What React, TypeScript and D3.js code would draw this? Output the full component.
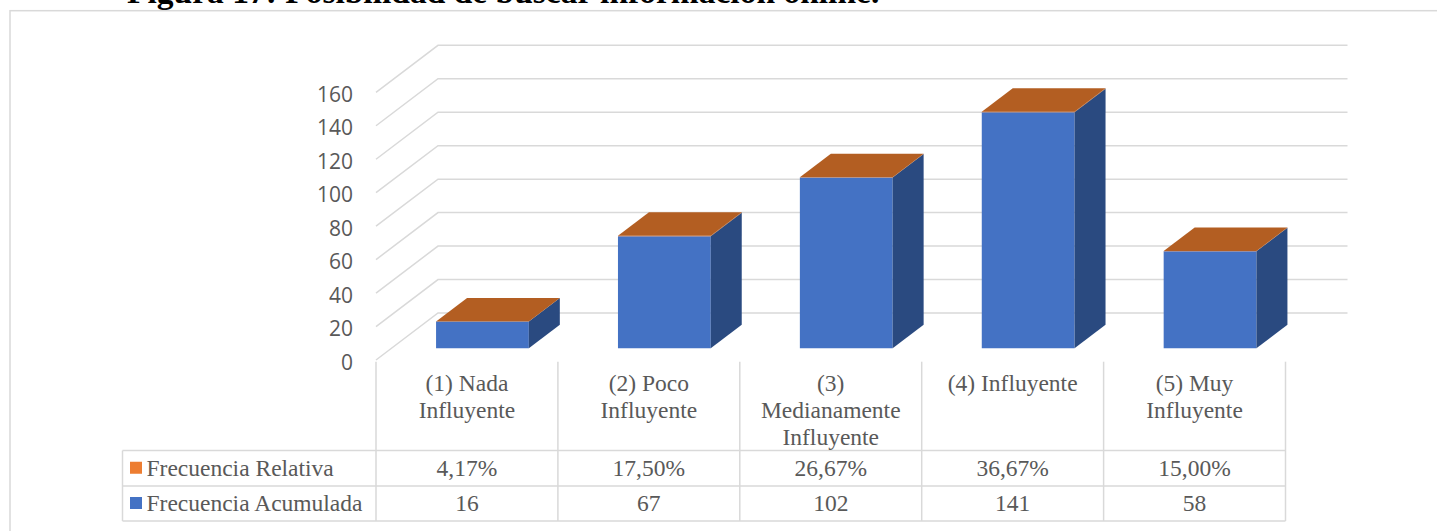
import React from "react";
import * as d3 from "d3";

// Series and labels
const categories = [
  "(1) Nada Influyente",
  "(2) Poco Influyente",
  "(3) Medianamente Influyente",
  "(4) Influyente",
  "(5) Muy Influyente",
];
const categoryLines = [
  ["(1) Nada", "Influyente"],
  ["(2) Poco", "Influyente"],
  ["(3)", "Medianamente", "Influyente"],
  ["(4) Influyente"],
  ["(5) Muy", "Influyente"],
];
const frecuenciaRelativa = [0.0417, 0.175, 0.2667, 0.3667, 0.15];
const frecuenciaAcumulada = [16, 67, 102, 141, 58];
const yTicks = [0, 20, 40, 60, 80, 100, 120, 140, 160];
const seriesNames = ["Frecuencia Relativa", "Frecuencia Acumulada"];
const seriesColors = ["#ED7D31", "#4472C4"];

const W = 1437;
const H = 531;

// Plot frame (front plane) and the depth vector of the 3D box
const X0 = 376;
const X1 = 1285.5;
const DX = 62;
const DY = -47;
const BAR_Z0 = 0.25;
const BAR_Z1 = 0.75;
const BAR_RATIO = 0.51;

const GRID = "#D9D9D9";
const TEXT = "#595959";
const SERIF = "'Liberation Serif', 'Times New Roman', serif";

const x = d3.scaleBand<string>().domain(categories).range([X0, X1]);
const y = d3.scaleLinear().domain([0, 160]).range([360, 92.3]);

// project a point (screen x on front plane, value, depth 0..1)
const P = (px: number, v: number, z: number): [number, number] => [px + DX * z, y(v) + DY * z];

const poly = (pts: [number, number][]) => d3.line()(pts.concat([pts[0]])) as string;

const fmtPct = (v: number) => d3.format(".2%")(v).replace(".", ",");

function Box({ x0, x1, v0, v1, front, side, top }: any) {
  const a = P(x0, v0, BAR_Z0);
  const b = P(x1, v0, BAR_Z0);
  const c = P(x1, v1, BAR_Z0);
  const d = P(x0, v1, BAR_Z0);
  const b2 = P(x1, v0, BAR_Z1);
  const c2 = P(x1, v1, BAR_Z1);
  const d2 = P(x0, v1, BAR_Z1);
  return (
    <g>
      <path d={poly([a, b, c, d])} fill={front} />
      <path d={poly([b, b2, c2, c])} fill={side} />
      {top && <path d={poly([d, c, c2, d2])} fill={top} />}
    </g>
  );
}

export default function App() {
  const bw = x.bandwidth();
  const barW = bw * BAR_RATIO;
  const tableTop = 450.5;
  const rowMid = 486;
  const tableBottom = 521;
  const legendLeft = 122.5;
  const edges = categories.map((c) => x(c) as number).concat([X1]);

  return (
    <svg
      width={W}
      height={H}
      style={{ position: "absolute", left: 0, top: 0, display: "block", background: "#fff" }}
    >
      <rect width={W} height={H} fill="#fff" />
      {/* title, partly above the frame */}
      <text x={127} y={3} fontFamily={SERIF} fontWeight="bold" fontSize={33.5} fill="#000">
        Figura 17: Posibilidad de buscar información online.
      </text>
      {/* chart area border */}
      <rect x={10} y={10.7} width={1500} height={600} fill="none" stroke={GRID} strokeWidth={1.5} />

      {/* gridlines: side wall diagonals and back wall */}
      {yTicks.map((t) => {
        const f = P(X0, t, 0);
        const bk = P(X0, t, 1);
        const br = P(X1, t, 1);
        return (
          <path
            key={t}
            d={d3.line()([f, bk, br]) as string}
            fill="none"
            stroke={GRID}
            strokeWidth={1.5}
          />
        );
      })}

      {/* y axis labels */}
      {yTicks.map((t) => (
        <text
          key={t}
          x={353}
          y={y(t) + 1.5}
          textAnchor="end"
          dominantBaseline="central"
          fontFamily="'Open Sans', sans-serif"
          fontSize={21}
          fill={TEXT}
        >
          {t}
        </text>
      ))}

      {/* stacked 3D columns */}
      {categories.map((c, i) => {
        const bx0 = (x(c) as number) + (bw - barW) / 2;
        const bx1 = bx0 + barW;
        const acc = frecuenciaAcumulada[i];
        const rel = frecuenciaRelativa[i];
        return (
          <g key={c}>
            <Box x0={bx0} x1={bx1} v0={0} v1={acc} front="#4472C4" side="#2A4A80" />
            <Box
              x0={bx0}
              x1={bx1}
              v0={acc}
              v1={acc + rel}
              front="#ED7D31"
              side="#9E4E1B"
              top="#B35E22"
            />
          </g>
        );
      })}

      {/* data table */}
      <g stroke={GRID} strokeWidth={1.5} fill="none">
        {edges.map((ex, i) => (
          <line key={i} x1={ex} x2={ex} y1={361.7} y2={tableBottom} />
        ))}
        <line x1={legendLeft} x2={legendLeft} y1={tableTop} y2={tableBottom} />
        {[tableTop, rowMid, tableBottom].map((ry) => (
          <line key={ry} x1={legendLeft} x2={X1} y1={ry} y2={ry} />
        ))}
      </g>

      {/* category labels */}
      {categories.map((c, i) => (
        <text
          key={c}
          x={(x(c) as number) + bw / 2}
          textAnchor="middle"
          fontFamily={SERIF}
          fontSize={23.5}
          fill={TEXT}
        >
          {categoryLines[i].map((ln, j) => (
            <tspan key={j} x={(x(c) as number) + bw / 2} y={391 + j * 27}>
              {ln}
            </tspan>
          ))}
        </text>
      ))}

      {/* legend keys and row values */}
      {seriesNames.map((s, r) => {
        const rTop = r === 0 ? tableTop : rowMid;
        const rBot = r === 0 ? rowMid : tableBottom;
        const mid = (rTop + rBot) / 2;
        const vals = r === 0 ? frecuenciaRelativa.map(fmtPct) : frecuenciaAcumulada.map(String);
        return (
          <g key={s}>
            <rect x={130} y={mid - 6.5} width={12} height={12} fill={seriesColors[r]} />
            <text x={146.5} y={mid + 7.5} fontFamily={SERIF} fontSize={23.5} fill={TEXT}>
              {s}
            </text>
            {categories.map((c, i) => (
              <text
                key={c}
                x={(x(c) as number) + bw / 2}
                y={mid + 7.5}
                textAnchor="middle"
                fontFamily={SERIF}
                fontSize={23.5}
                fill={TEXT}
              >
                {vals[i]}
              </text>
            ))}
          </g>
        );
      })}
    </svg>
  );
}
